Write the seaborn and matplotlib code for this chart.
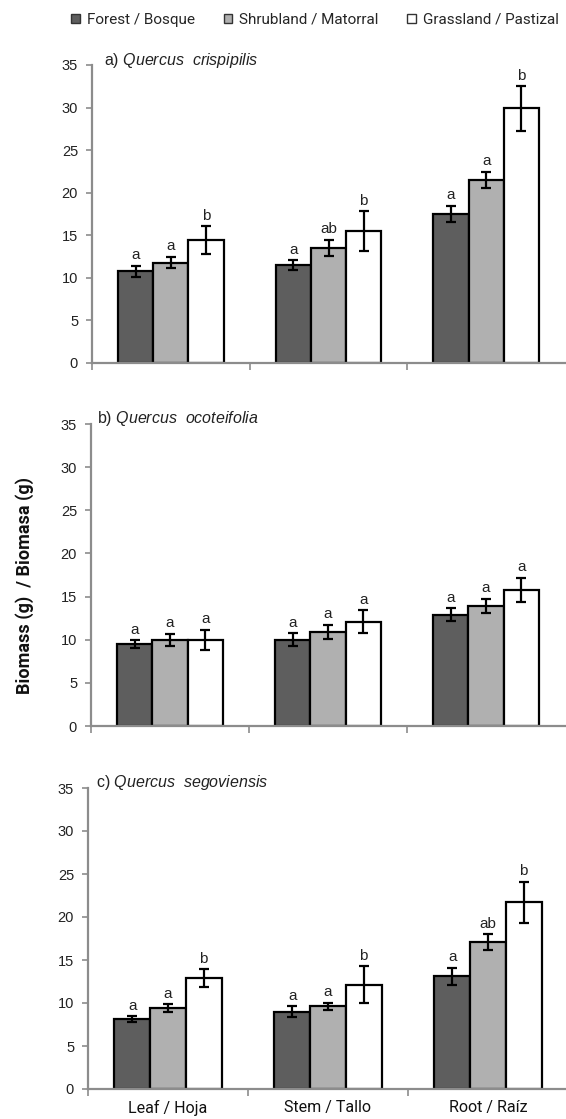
import matplotlib
matplotlib.use("Agg")
import matplotlib.pyplot as plt
import seaborn as sns
import pandas as pd
from matplotlib.ticker import FixedLocator
from matplotlib.patches import Patch

# data
organs = ["Leaf / Hoja", "Stem / Tallo", "Root / Raíz"]
habitats = ["Forest / Bosque", "Shrubland / Matorral", "Grassland / Pastizal"]
species = [r"Quercus\ \ crispipilis", r"Quercus\ \ ocoteifolia", r"Quercus\ \ segoviensis"]
panel_tags = ["a)", "b)", "c)"]

# means per species, organ order Leaf, Stem, Root; one list per habitat
crisp_forest = [10.8, 11.5, 17.5]
crisp_shrub = [11.8, 13.5, 21.5]
crisp_grass = [14.4, 15.5, 29.9]
ocot_forest = [9.5, 10.0, 12.9]
ocot_shrub = [10.0, 10.9, 13.9]
ocot_grass = [10.0, 12.1, 15.8]
sego_forest = [8.1, 9.0, 13.1]
sego_shrub = [9.4, 9.6, 17.1]
sego_grass = [12.9, 12.1, 21.7]

# error bar half widths
crisp_forest_err = [0.65, 0.6, 0.95]
crisp_shrub_err = [0.7, 0.95, 0.95]
crisp_grass_err = [1.65, 2.3, 2.6]
ocot_forest_err = [0.45, 0.75, 0.75]
ocot_shrub_err = [0.7, 0.85, 0.85]
ocot_grass_err = [1.15, 1.3, 1.4]
sego_forest_err = [0.35, 0.65, 1.0]
sego_shrub_err = [0.45, 0.45, 0.9]
sego_grass_err = [1.0, 2.15, 2.4]

# significance letters
crisp_letters = [["a", "a", "b"], ["a", "ab", "b"], ["a", "a", "b"]]
ocot_letters = [["a", "a", "a"], ["a", "a", "a"], ["a", "a", "a"]]
sego_letters = [["a", "a", "b"], ["a", "a", "b"], ["a", "ab", "b"]]

means = [
    [crisp_forest, crisp_shrub, crisp_grass],
    [ocot_forest, ocot_shrub, ocot_grass],
    [sego_forest, sego_shrub, sego_grass],
]
errs = [
    [crisp_forest_err, crisp_shrub_err, crisp_grass_err],
    [ocot_forest_err, ocot_shrub_err, ocot_grass_err],
    [sego_forest_err, sego_shrub_err, sego_grass_err],
]
letters = [crisp_letters, ocot_letters, sego_letters]

colors = ["#5e5e5e", "#b0b0b0", "#ffffff"]
narrow = ["Roboto", "DejaVu Sans"]

sns.set_style("white")
plt.rcParams["font.family"] = ["Liberation Sans", "DejaVu Sans"]
plt.rcParams["mathtext.fontset"] = "custom"
plt.rcParams["mathtext.rm"] = "Liberation Sans"
plt.rcParams["mathtext.it"] = "Liberation Sans:italic"

fig = plt.figure(figsize=(5.66, 11.19), dpi=100)
W, H = 566, 1119
# left, top, right, bottom in pixels
boxes = [(92, 65, 565, 363), (91, 424, 565, 726), (88, 788, 568, 1089)]

for p in range(3):
    l, t, r, b = boxes[p]
    ax = fig.add_axes([l / W, 1 - b / H, (r - l) / W, (b - t) / H])
    rows = []
    for h in range(3):
        for o in range(3):
            rows.append({"organ": organs[o], "habitat": habitats[h],
                         "biomass": means[p][h][o]})
    df = pd.DataFrame(rows)
    sns.barplot(data=df, x="organ", y="biomass", hue="habitat",
                order=organs, hue_order=habitats, palette=colors,
                width=0.67, edgecolor="black", linewidth=1.6,
                errorbar=None, legend=False, ax=ax)

    # error bars and letters placed at the bar centres
    bars = ax.patches
    for h in range(3):
        for o in range(3):
            bar = bars[h * 3 + o]
            xc = bar.get_x() + bar.get_width() / 2
            m = means[p][h][o]
            e = errs[p][h][o]
            ax.errorbar(xc, m, yerr=e, color="black", capsize=3.5,
                        elinewidth=1.6, capthick=1.6)
            ax.annotate(letters[p][o][h], (xc, m + e), xytext=(0, 2.5),
                        textcoords="offset points", ha="center", va="bottom",
                        fontsize=11, color="#222222")

    ax.set_xlim(-0.5, 2.5)
    ax.set_ylim(0, 35)
    ax.set_yticks(range(0, 36, 5))
    ax.set_xlabel("")
    ax.set_ylabel("")
    ax.tick_params(axis="y", left=True, length=4, width=1.2, color="#8c8c8c",
                   labelsize=10.5, labelcolor="#222222", pad=6)
    ax.xaxis.set_minor_locator(FixedLocator([-0.5, 0.5, 1.5]))
    ax.tick_params(axis="x", which="minor", bottom=True, length=5, width=1.2,
                   color="#8c8c8c")
    ax.tick_params(axis="x", which="major", bottom=False, length=0, pad=8)
    if p < 2:
        ax.set_xticklabels([])
    else:
        ax.set_xticks(range(3))
        ax.set_xticklabels(organs, fontsize=11.5, family=narrow, color="#111111")
    for s in ["top", "right"]:
        ax.spines[s].set_visible(False)
    for s in ["left", "bottom"]:
        ax.spines[s].set_color("#8c8c8c")
        ax.spines[s].set_linewidth(1.6)

    tx = [104, 97, 96][p]
    ty = [60, 419, 783][p]
    fig.text(tx / W, 1 - ty / H, panel_tags[p] + r" $\mathit{" + species[p] + "}$",
             fontsize=11.5, va="center", ha="left", color="#222222")

# legend at the top
handles = [Patch(facecolor=c, edgecolor="#333333", linewidth=1.0) for c in colors]
fig.legend(handles, habitats, loc="center", bbox_to_anchor=(315 / W, 1 - 20 / H),
           ncol=3, frameon=False, handlelength=0.55, handleheight=0.55,
           handletextpad=0.45, columnspacing=1.9,
           prop={"family": narrow, "size": 11})

fig.text(25 / W, 1 - 585 / H, "Biomass (g)  / Biomasa (g)", rotation=90,
         va="center", ha="center", fontsize=13, fontweight="bold",
         family=narrow, color="#111111")

fig.savefig("out.png", dpi=100)
